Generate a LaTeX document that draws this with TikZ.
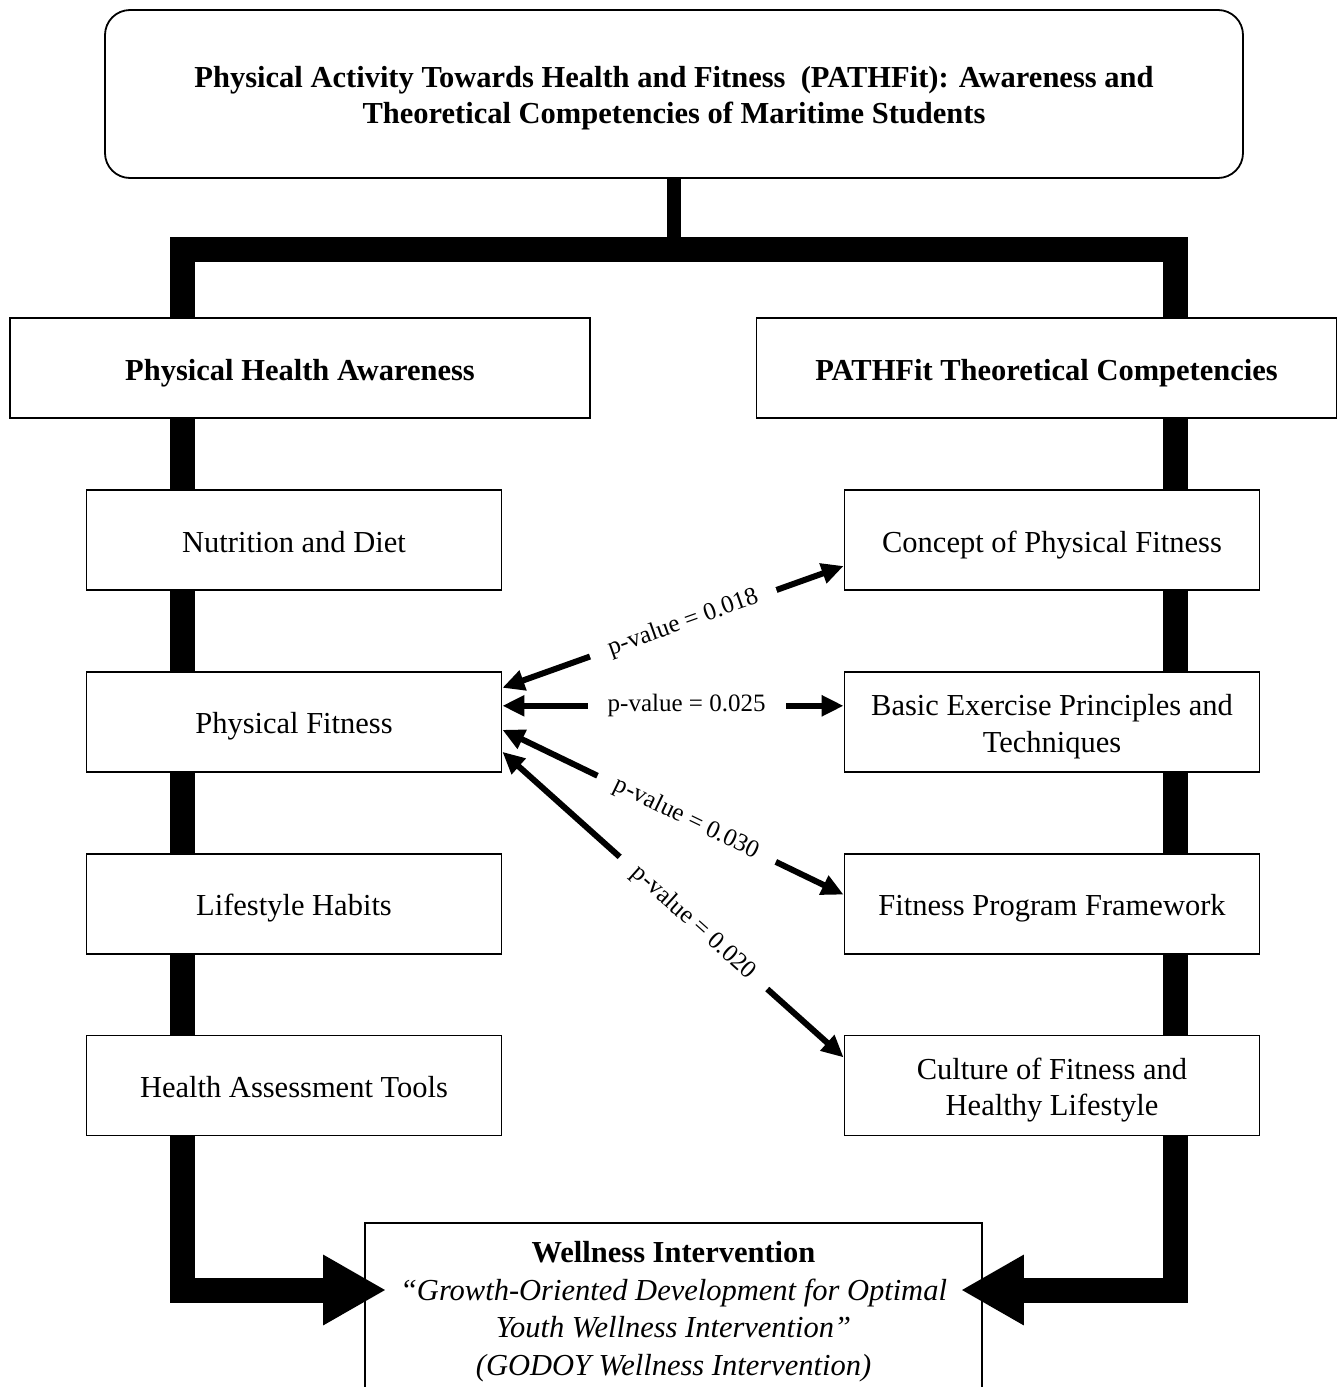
\documentclass[tikz,border=0pt]{standalone}
\usepackage{fontspec}
\setmainfont{Liberation Serif}
\usetikzlibrary{positioning,arrows.meta}

\begin{document}
\begin{tikzpicture}[x=1pt, y=-1pt,
	box/.style={draw, line width=1.8pt, fill=white, minimum width=415pt, minimum height=100pt, align=center, text height=28pt, text depth=4pt, font=\fontsize{30.5}{36.5}\selectfont},
	twoline/.style={text height=64.5pt},
	head/.style={box, minimum width=580pt, font=\fontsize{30.5}{36.5}\selectfont\bfseries},
	frame/.style={line width=25pt, line join=miter, -{Triangle[length=63pt,width=66pt]}, shorten >=-22pt},
	parrow/.style={line width=6pt, {Triangle[length=22pt,width=20pt]}-{Triangle[length=22pt,width=20pt]}},
	plabel/.style={sloped, fill=white, inner xsep=20pt, inner ysep=1pt, font=\fontsize{25}{30}\selectfont, pos=0.54}]
		\useasboundingbox (0,0) rectangle (1344,1387);

		\node(title)[box, twoline, text depth=5pt, rounded corners=25pt, minimum width=1138pt, minimum height=168pt, font=\fontsize{30.5}{36.5}\selectfont\bfseries] at (674,94){Physical Activity Towards Health and Fitness~ (PATHFit): Awareness and\\Theoretical Competencies of Maritime Students};
		\node(wi)[box, anchor=north, minimum width=617pt, inner ysep=10pt, text height=142.5pt, text depth=100pt, font=\fontsize{30.5}{37.5}\selectfont] at (673.5,1222){\textbf{Wellness Intervention}\\\textit{“Growth-Oriented Development for Optimal}\\\textit{Youth Wellness Intervention”}\\\textit{(GODOY Wellness Intervention)}};

		\coordinate(hub) at (674,249);
		\coordinate(ltop) at (182,249);
		\coordinate(rtop) at (1175,249);
		\coordinate(lbot) at (182,1290);
		\coordinate(rbot) at (1175,1290);

		\draw[line width=14pt] (title.south) -- (hub);
		\draw[frame] (hub) -- (ltop) -- (lbot) -- (lbot -| wi.west);
		\draw[frame] (hub) -- (rtop) -- (rbot) -- (rbot -| wi.east);

		\node(pha)[head] at (300,368){Physical Health Awareness};
		\node(ptc)[head] at (1046.5,368){PATHFit Theoretical Competencies};

		\node(nd)[box] at (294,540){Nutrition and Diet};
		\node(pf)[box, below=80pt of nd]{Physical Fitness};
		\node(lh)[box, below=80pt of pf]{Lifestyle Habits};
		\node(hat)[box, below=80pt of lh]{Health Assessment Tools};

		\node(cpf)[box] at (1052,540){Concept of Physical Fitness};
		\node(bep)[box, twoline, below=80pt of cpf]{Basic Exercise Principles and\\Techniques};
		\node(fpf)[box, below=80pt of bep]{Fitness Program Framework};
		\node(cfh)[box, twoline, below=80pt of fpf]{Culture of Fitness and\\Healthy Lifestyle};

		\draw[parrow] ([yshift=34pt]pf.east) -- node[plabel, pos=0.53]{p-value = 0.018} ([yshift=-26pt]cpf.west);
		\draw[parrow] ([yshift=16pt]pf.east) -- node[plabel]{p-value = 0.025} ([yshift=16pt]bep.west);
		\draw[parrow] ([yshift=-8pt]pf.east) -- node[plabel]{p-value = 0.030} ([yshift=9pt]fpf.west);
		\draw[parrow] ([yshift=-30pt]pf.east) -- node[plabel, pos=0.56]{p-value = 0.020} ([yshift=28pt]cfh.west);
	\end{tikzpicture}
\end{document}
